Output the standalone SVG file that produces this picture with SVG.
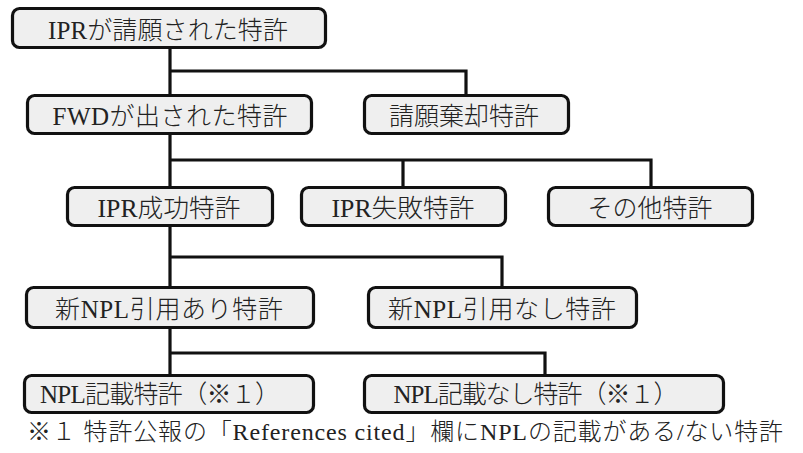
<svg xmlns="http://www.w3.org/2000/svg" width="803" height="453" viewBox="0 0 803 453">
<style>
.box{fill:#efefef;stroke:#111;stroke-width:3.2}
.lbl{font-family:"Liberation Serif","Noto Sans CJK JP",serif;font-size:25px;font-weight:300;fill:#222;text-anchor:middle}
.note{font-family:"Liberation Serif","Noto Sans CJK JP",serif;font-size:24px;font-weight:300;fill:#222}
.con{fill:none;stroke:#111;stroke-width:3.2}
</style>
<rect width="803" height="453" fill="#ffffff"/>
<g id="connectors">
<path class="con" d="M170 48V95M170 71H466V95"/>
<path class="con" d="M170 135V187M170 160H651V187M403 160V187"/>
<path class="con" d="M170 227V287M170 257H502V287"/>
<path class="con" d="M170 329V375M170 353H545V375"/>
</g>
<g id="n1"><rect class="box" x="12.5" y="8.5" width="313" height="39" rx="7"/><text class="lbl" x="168" y="38.5" textLength="240" lengthAdjust="spacing">IPRが請願された特許</text></g>
<g id="n2"><rect class="box" x="27.5" y="95.5" width="284" height="38" rx="7"/><text class="lbl" x="170" y="125" textLength="235" lengthAdjust="spacing">FWDが出された特許</text></g>
<g id="n3"><rect class="box" x="364.5" y="95.5" width="204" height="38" rx="7"/><text class="lbl" x="464" y="125">請願棄却特許</text></g>
<g id="n4"><rect class="box" x="67.5" y="187.5" width="205" height="38" rx="7"/><text class="lbl" x="169" y="217" textLength="143" lengthAdjust="spacingAndGlyphs">IPR成功特許</text></g>
<g id="n5"><rect class="box" x="301.5" y="187.5" width="204" height="38" rx="7"/><text class="lbl" x="403" y="217" textLength="143" lengthAdjust="spacingAndGlyphs">IPR失敗特許</text></g>
<g id="n6"><rect class="box" x="548.5" y="187.5" width="204" height="38" rx="7"/><text class="lbl" x="650" y="217">その他特許</text></g>
<g id="n7"><rect class="box" x="26.5" y="287.5" width="287" height="40" rx="7"/><text class="lbl" x="169" y="318" textLength="228" lengthAdjust="spacing">新NPL引用あり特許</text></g>
<g id="n8"><rect class="box" x="368.5" y="287.5" width="268" height="40" rx="7"/><text class="lbl" x="502" y="318" textLength="228" lengthAdjust="spacing">新NPL引用なし特許</text></g>
<g id="n9"><rect class="box" x="24.5" y="375.5" width="289" height="37" rx="7"/><text class="lbl" x="160" y="403" textLength="240" lengthAdjust="spacing">NPL記載特許（※１）</text></g>
<g id="n10"><rect class="box" x="364.5" y="375.5" width="359" height="37" rx="7"/><text class="lbl" x="536" y="403" textLength="285" lengthAdjust="spacing">NPL記載なし特許（※１）</text></g>
<text class="note" x="27" y="440" textLength="756" lengthAdjust="spacing">※１ 特許公報の「References cited」欄にNPLの記載がある/ない特許</text>
</svg>
